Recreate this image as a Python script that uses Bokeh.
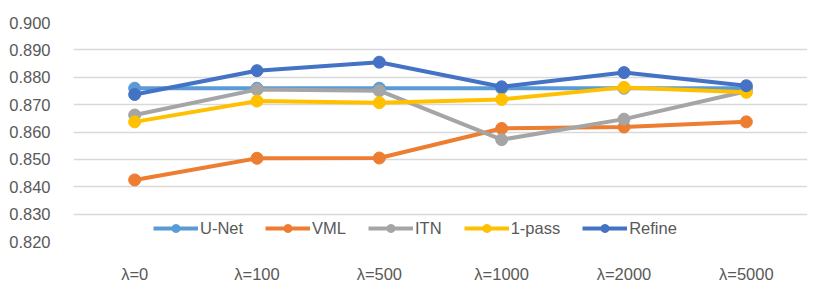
from bokeh.plotting import figure
from bokeh.models import FixedTicker, NumeralTickFormatter, Legend, LegendItem, Range1d
from bokeh.embed import file_html
from bokeh.resources import INLINE

categories = ["λ=0", "λ=100", "λ=500", "λ=1000", "λ=2000", "λ=5000"]
unet = [0.876, 0.876, 0.876, 0.876, 0.876, 0.876]
vml = [0.8425, 0.8504, 0.8505, 0.8613, 0.8618, 0.8637]
itn = [0.8662, 0.8755, 0.8751, 0.8572, 0.8647, 0.8749]
one_pass = [0.8637, 0.8713, 0.8707, 0.8719, 0.8763, 0.8745]
refine = [0.8737, 0.8824, 0.8855, 0.8765, 0.8817, 0.8769]
y_ticks = [0.82, 0.83, 0.84, 0.85, 0.86, 0.87, 0.88, 0.89, 0.90]

series = [
    ("U-Net", unet, "#5B9BD5"),
    ("VML", vml, "#ED7D31"),
    ("ITN", itn, "#A5A5A5"),
    ("1-pass", one_pass, "#FFC000"),
    ("Refine", refine, "#4472C4"),
]

FONT = "Liberation Sans"
TXT = "#595959"

p = figure(x_range=categories, width=822, height=285, output_backend="svg",
           toolbar_location=None, min_border_left=73, min_border_right=15,
           min_border_top=22, min_border_bottom=41)
p.y_range = Range1d(0.82, 0.90)
p.outline_line_color = None
p.background_fill_color = "white"

p.xgrid.grid_line_color = None
p.ygrid.grid_line_color = "#D9D9D9"
p.ygrid.grid_line_width = 1.5
p.ygrid.ticker = FixedTicker(ticks=y_ticks)

p.yaxis.ticker = FixedTicker(ticks=y_ticks)
p.yaxis.formatter = NumeralTickFormatter(format="0.000")
p.yaxis.axis_line_color = None
p.yaxis.major_tick_line_color = None
p.yaxis.minor_tick_line_color = None
p.yaxis.major_label_standoff = 17
p.yaxis.major_label_text_font = FONT
p.yaxis.major_label_text_font_size = "16.5px"
p.yaxis.major_label_text_color = TXT

p.xaxis.axis_line_color = None
p.xaxis.major_tick_line_color = None
p.xaxis.minor_tick_line_color = None
p.xaxis.major_label_standoff = 17
p.xaxis.major_label_text_font = FONT
p.xaxis.major_label_text_font_size = "16.5px"
p.xaxis.major_label_text_color = TXT

items = []
for name, vals, color in series:
    r1 = p.line(categories, vals, line_color=color, line_width=4)
    r2 = p.scatter(categories, vals, size=12, fill_color=color, line_color=color)
    items.append(LegendItem(label=name, renderers=[r1, r2]))

legend = Legend(items=items, orientation="horizontal", location=(80, 3),
                glyph_width=45, glyph_height=20, label_height=20,
                label_standoff=2, spacing=22, padding=0, margin=0,
                border_line_color=None, background_fill_alpha=0,
                label_text_font=FONT, label_text_font_size="16.5px",
                label_text_color=TXT)
p.add_layout(legend, "center")

open("out.html", "w").write(file_html(p, INLINE))
